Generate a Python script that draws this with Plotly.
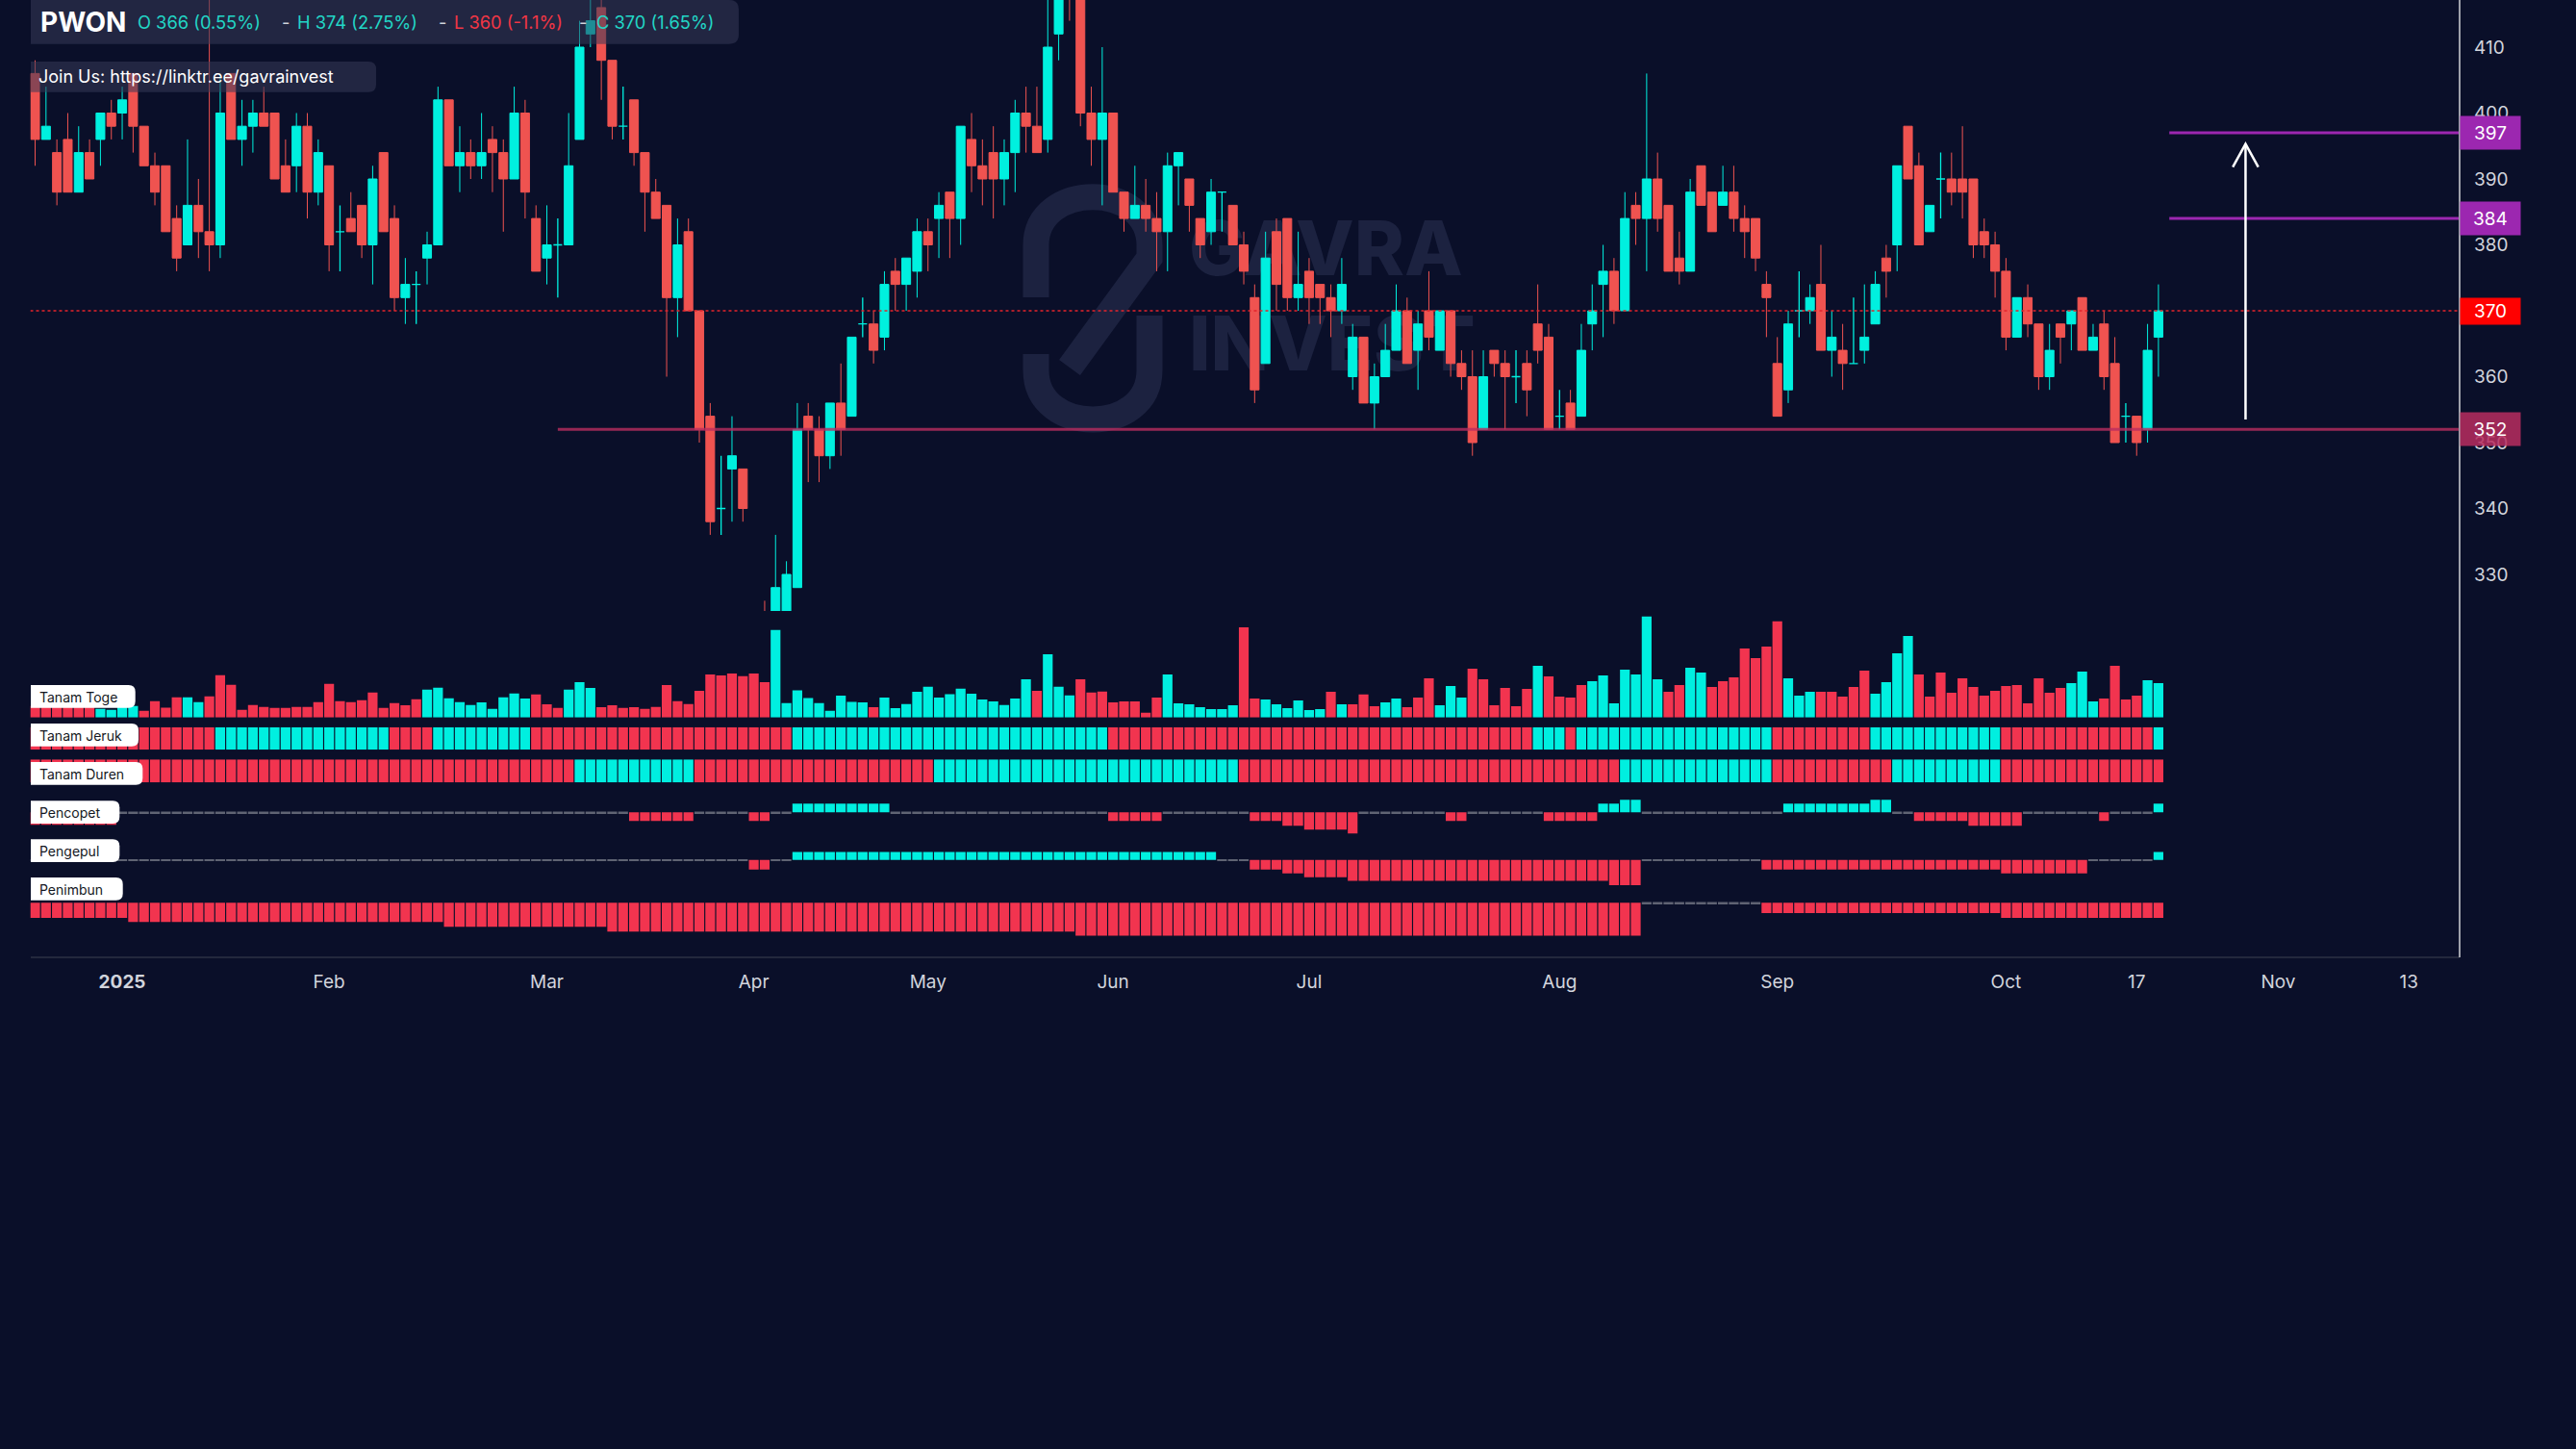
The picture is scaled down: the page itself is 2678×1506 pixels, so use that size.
import plotly.graph_objects as go

W, H = 2678, 1506
BG = "#0a0f29"
FONT = "Inter"

# ---------------- data ----------------
symbol = "PWON"
ohlc_labels = ["O 366 (0.55%)", "H 374 (2.75%)", "L 360 (-1.1%)", "C 370 (1.65%)"]
ohlc_label_dir = ["up", "up", "down", "up"]
link_text = "Join Us: https://linktr.ee/gavrainvest"
watermark = ["GAVRA", "INVEST"]

tick_idx = [8, 27, 47, 66, 82, 99, 117, 140, 160, 181, 193, 206, 218]
tick_text = ["<b>2025</b>", "Feb", "Mar", "Apr", "May", "Jun", "Jul", "Aug", "Sep", "Oct", "17", "Nov", "13"]
price_ticks = [330, 340, 350, 360, 370, 380, 390, 400, 410]

opens = [406, 396, 394, 396, 388, 394, 396, 400, 400, 406,
         398, 392, 392, 384, 380, 386, 382, 380, 406, 396,
         398, 400, 400, 392, 392, 398, 388, 392, 382, 384,
         386, 380, 394, 384, 372, 374, 378, 380, 402, 392,
         394, 392, 396, 394, 390, 400, 384, 378, 380, 380,
         396, 412, 416, 408, 398, 402, 394, 388, 386, 372,
         382, 370, 354, 340, 346, 346, 322, 320, 318, 322,
         328, 354, 352, 348, 356, 354, 368, 368, 366, 376,
         374, 376, 382, 384, 388, 384, 396, 392, 394, 390,
         394, 400, 398, 396, 412, 426, 420, 400, 396, 400,
         388, 384, 386, 384, 382, 392, 390, 384, 382, 388,
         386, 380, 372, 362, 382, 384, 372, 376, 374, 372,
         370, 360, 366, 356, 360, 364, 370, 364, 370, 364,
         370, 362, 360, 352, 364, 362, 360, 362, 368, 366,
         354, 356, 354, 368, 374, 376, 370, 386, 384, 390,
         386, 378, 376, 392, 388, 386, 388, 384, 384, 374,
         362, 358, 370, 370, 374, 364, 364, 362, 364, 368,
         378, 380, 398, 392, 382, 390, 390, 390, 390, 382,
         380, 376, 366, 372, 368, 360, 368, 368, 372, 364,
         368, 362, 354, 354, 352, 366]
highs = [408, 404, 396, 400, 398, 396, 400, 402, 404, 406,
         398, 394, 392, 386, 396, 390, 420, 406, 406, 402,
         402, 404, 400, 396, 400, 400, 396, 392, 386, 388,
         386, 392, 394, 386, 378, 376, 382, 404, 402, 398,
         396, 400, 398, 396, 404, 402, 386, 386, 384, 400,
         414, 418, 420, 408, 404, 402, 394, 390, 386, 384,
         384, 370, 356, 348, 354, 346, 324, 326, 336, 332,
         356, 356, 354, 356, 362, 366, 372, 370, 376, 378,
         378, 384, 384, 388, 388, 398, 400, 396, 398, 396,
         402, 404, 404, 418, 424, 428, 422, 404, 410, 400,
         388, 392, 390, 388, 394, 394, 390, 384, 390, 388,
         386, 382, 374, 382, 384, 384, 382, 378, 374, 374,
         378, 368, 366, 362, 368, 374, 372, 370, 376, 370,
         370, 364, 364, 364, 364, 364, 364, 364, 374, 368,
         358, 358, 368, 374, 380, 378, 388, 388, 406, 394,
         386, 382, 390, 392, 388, 392, 392, 386, 384, 376,
         366, 370, 376, 374, 380, 370, 368, 372, 374, 376,
         380, 392, 398, 394, 386, 394, 394, 398, 390, 384,
         382, 378, 372, 374, 368, 368, 368, 370, 372, 368,
         370, 366, 356, 354, 368, 374]
lows = [392, 396, 386, 388, 388, 390, 392, 396, 396, 394,
        392, 386, 382, 376, 380, 378, 376, 378, 396, 392,
        394, 398, 390, 388, 388, 384, 386, 376, 376, 382,
        378, 374, 382, 370, 368, 368, 374, 380, 392, 388,
        390, 390, 388, 382, 390, 384, 376, 374, 372, 380,
        396, 410, 402, 396, 396, 392, 382, 384, 360, 366,
        370, 350, 336, 336, 338, 338, 312, 310, 316, 320,
        328, 344, 344, 346, 348, 354, 366, 362, 364, 370,
        370, 372, 376, 378, 378, 380, 388, 386, 384, 386,
        388, 394, 394, 394, 408, 414, 398, 392, 386, 388,
        382, 384, 382, 376, 376, 386, 382, 378, 380, 382,
        380, 374, 356, 362, 370, 370, 370, 368, 368, 366,
        368, 358, 356, 352, 360, 364, 362, 358, 364, 364,
        360, 358, 348, 352, 360, 352, 356, 354, 362, 352,
        352, 352, 354, 364, 366, 368, 370, 380, 376, 382,
        376, 374, 376, 386, 382, 386, 382, 378, 376, 366,
        354, 356, 366, 368, 364, 360, 358, 362, 362, 368,
        372, 376, 390, 380, 382, 384, 386, 384, 378, 378,
        372, 364, 366, 366, 358, 358, 362, 364, 364, 364,
        358, 350, 350, 348, 350, 360]
closes = [396, 398, 388, 388, 394, 390, 400, 398, 402, 398,
          392, 388, 382, 378, 386, 382, 380, 400, 396, 398,
          400, 398, 390, 388, 398, 388, 394, 380, 382, 382,
          380, 390, 382, 372, 374, 374, 380, 402, 392, 394,
          392, 394, 394, 390, 400, 388, 376, 380, 380, 392,
          410, 414, 408, 398, 398, 394, 388, 384, 372, 380,
          370, 352, 338, 340, 348, 340, 316, 316, 328, 330,
          352, 352, 348, 356, 352, 366, 368, 364, 374, 374,
          378, 382, 380, 386, 384, 398, 392, 390, 390, 394,
          400, 398, 394, 410, 422, 420, 400, 396, 400, 388,
          384, 386, 384, 382, 392, 394, 386, 380, 388, 388,
          380, 376, 358, 378, 374, 372, 374, 372, 372, 370,
          374, 366, 356, 360, 364, 370, 362, 368, 366, 370,
          362, 360, 350, 360, 362, 360, 360, 358, 364, 352,
          354, 352, 364, 370, 376, 370, 384, 384, 390, 384,
          376, 376, 388, 386, 382, 388, 384, 382, 378, 372,
          354, 368, 370, 372, 364, 366, 362, 362, 366, 374,
          376, 392, 390, 380, 386, 390, 388, 388, 380, 380,
          376, 366, 372, 368, 360, 364, 366, 370, 364, 366,
          360, 350, 354, 350, 364, 370]

# "Tanam Toge" histogram (relative volume) and its colour runs
toge = [12, 12, 12, 12, 12, 12, 9, 8, 15.7, 12,
        7, 17, 10.3, 21, 21, 16,
        22, 44, 34, 8, 13, 11, 10, 10, 11, 11, 16, 35, 17, 16, 18, 26, 10, 15, 12.7, 19,
        29, 31, 20, 16, 13, 15.7, 9, 21, 25, 19.7,
        24, 13.7, 10, 29, 36.7, 30.7,
        10.7, 12.7, 10, 10.7, 9, 11, 33.7, 17, 14, 27.7, 44.7, 43.7, 45.7, 43, 45.7, 36.7,
        91, 15, 28.3, 20.3, 15, 7, 22.7, 16.3, 15.7, 10.7,
        20.7, 9.7, 14, 26.7, 32, 20.7, 24.3, 30, 24.7, 18.7, 16.7, 13, 19.7, 39.7,
        27.7, 65.7, 32, 23,
        39.7, 26, 27, 15.7, 16.7, 16.7, 5, 20.7,
        44.7, 14.7, 13.7, 10.7, 8.7, 8.7, 12.7,
        93.7, 19.7, 18.7, 13.7, 9.7, 17.7, 7.7, 8.7, 26.7, 13.7,
        13.7, 24, 11.7, 15.7, 19.7, 10.7, 20.7, 40.7, 12.7, 32.7, 20.7,
        50.7, 39.7, 12.7, 30.7, 11.7, 29.7, 53.7, 42.7, 21.7, 20.7, 33.7,
        37.7, 43.7, 14.7, 49.7, 44.7, 105, 39.7, 26.7, 33.7, 51.7, 46.7,
        31.7, 37.7, 41.7, 71.7, 61.7, 73.7, 100, 40.7, 22.7, 26.7,
        26.7, 26.7, 21.7, 31.7, 48.7, 24.7, 36.7, 66.7, 84.7,
        44.7, 21.7, 46.7, 25.7, 40.7, 31.7, 22.7, 27.7, 32.7, 33.7, 14.7, 40.7, 25.7, 30.7,
        35.7, 47.7, 16.7, 19.7, 53.7, 18.7, 22.7, 38.7, 35.7]
toge_runs = [("r", 6), ("c", 4), ("r", 4), ("c", 2), ("r", 20), ("c", 10), ("r", 3), ("c", 3),
             ("r", 16), ("c", 9), ("r", 1), ("c", 14), ("r", 1), ("c", 3), ("r", 8), ("c", 7),
             ("r", 2), ("c", 6), ("r", 1), ("c", 1), ("r", 3), ("c", 2), ("r", 3), ("c", 3),
             ("r", 6), ("c", 1), ("r", 4), ("c", 7), ("r", 2), ("c", 2), ("r", 7), ("c", 3),
             ("r", 5), ("c", 4), ("r", 14), ("c", 3), ("r", 4), ("c", 2)]
jeruk_runs = [("r", 17), ("c", 16), ("r", 4), ("c", 9), ("r", 24), ("c", 29), ("r", 39),
              ("c", 3), ("r", 1), ("c", 18), ("r", 9), ("c", 12), ("r", 14), ("c", 1)]
duren_runs = [("r", 50), ("c", 11), ("r", 22), ("c", 28), ("r", 35), ("c", 14), ("r", 11),
              ("c", 10), ("r", 15)]
pencopet_runs = [(-13, 8), (0, 47), (-9, 6), (0, 5), (-9, 2), (0, 2), (9, 9), (0, 20), (-9, 5),
                 (0, 8), (-9, 3), (-14, 2), (-18, 4), (-22, 1), (0, 8), (-9, 2), (0, 7), (-9, 5),
                 (9, 2), (13, 2), (0, 13), (9, 8), (13, 2), (0, 2), (-9, 5), (-14, 5), (0, 7),
                 (-9, 1), (0, 4), (9, 1)]
pengepul_runs = [(0, 66), (-10, 2), (0, 2), (8.3, 39), (0, 3), (-10, 3), (-14, 2), (-18, 4),
                 (-21.7, 24), (-26.3, 3), (0, 11), (-10, 22), (-14, 8), (0, 6), (8.3, 1)]
penimbun_runs = [(-15.7, 9), (-20, 29), (-25, 15), (-30, 43), (-34.3, 52), (0, 11),
                 (-10.7, 22), (-15.7, 15)]
pane_names = ["Tanam Toge", "Tanam Jeruk", "Tanam Duren", "Pencopet", "Pengepul", "Penimbun"]

last_price = 370
levels = [397, 384, 352]
level_from = [196, 196, 48]
target_idx, target_from, target_to = 203, 353.5, 395.3


def expand(runs):
    out = []
    for v, n in runs:
        out += [v] * n
    return out


N = len(opens)
assert all(len(a) == N for a in (highs, lows, closes, toge)), [len(a) for a in (highs, lows, closes, toge)]
idx = list(range(N))
toge_dir = expand(toge_runs)
jeruk = expand(jeruk_runs)
duren = expand(duren_runs)
pencopet = expand(pencopet_runs)
pengepul = expand(pengepul_runs)
penimbun = expand(penimbun_runs)
for a in (toge_dir, jeruk, duren, pencopet, pengepul, penimbun):
    assert len(a) == N, len(a)

# ---------------- styles / geometry ----------------
UP, DN = "#00f0df", "#ef5350"
BUP, BDN = "#00efe0", "#f2344f"
ZERO = "#5f6373"
TXT = "#d1d4dc"
X0, DX = 36.5, 11.32
PL, PR = 31.5, 2557
P_REF, P_REF_Y, PPU = 370, 323, 6.85
PRICE_BOTTOM = 635


def fx(px):
    return px / W


def fy(py):
    return 1 - py / H


def px2i(px):
    return (px - X0) / DX


def py2p(py):
    return P_REF - (py - P_REF_Y) / PPU


xr = [px2i(PL), px2i(PR)]
yr = [py2p(PRICE_BOTTOM), py2p(0)]


def cmap(flags):
    return [BUP if f == "c" else BDN for f in flags]


def vcol(vals):
    return [BUP if v > 0 else BDN for v in vals]


fig = go.Figure()

# watermark text (base subplot, below the candles which sit on an overlaying axis)
fig.add_trace(go.Scatter(x=[px2i(1236), px2i(1236)], y=[py2p(266), py2p(365)], text=watermark,
                         mode="text", textposition="middle right",
                         textfont=dict(family=FONT, size=79, color="#1c2240", weight=800),
                         hoverinfo="skip", showlegend=False, cliponaxis=False))

norm = [i for i in idx if opens[i] != closes[i]]
doji = [i for i in idx if opens[i] == closes[i]]
fig.add_trace(go.Candlestick(
    x=norm, open=[opens[i] for i in norm], high=[highs[i] for i in norm],
    low=[lows[i] for i in norm], close=[closes[i] for i in norm],
    increasing=dict(line=dict(color=UP, width=1), fillcolor=UP),
    decreasing=dict(line=dict(color=DN, width=1), fillcolor=DN),
    whiskerwidth=0, xaxis="x", yaxis="y9", hoverinfo="skip", showlegend=False))
fig.add_trace(go.Candlestick(
    x=doji, open=[opens[i] for i in doji], high=[highs[i] for i in doji],
    low=[lows[i] for i in doji], close=[closes[i] for i in doji],
    increasing=dict(line=dict(color=UP, width=1.3), fillcolor=UP),
    decreasing=dict(line=dict(color=UP, width=1.3), fillcolor=UP),
    whiskerwidth=0, xaxis="x", yaxis="y9", hoverinfo="skip", showlegend=False))

fig.add_trace(go.Bar(x=idx, y=toge, marker=dict(color=cmap(toge_dir), line_width=0),
                     xaxis="x", yaxis="y2", hoverinfo="skip", showlegend=False))
fig.add_trace(go.Bar(x=idx, y=[1] * N, marker=dict(color=cmap(jeruk), line_width=0),
                     xaxis="x", yaxis="y3", hoverinfo="skip", showlegend=False))
fig.add_trace(go.Bar(x=idx, y=[1] * N, marker=dict(color=cmap(duren), line_width=0),
                     xaxis="x", yaxis="y4", hoverinfo="skip", showlegend=False))
for vals, ax in ((pencopet, "y5"), (pengepul, "y6"), (penimbun, "y7")):
    fig.add_trace(go.Bar(x=idx, y=[v if v != 0 else None for v in vals],
                         marker=dict(color=vcol(vals), line_width=0),
                         xaxis="x", yaxis=ax, hoverinfo="skip", showlegend=False))
    fig.add_trace(go.Bar(x=idx, y=[1.6 if v == 0 else None for v in vals], base=-0.8,
                         marker=dict(color=ZERO, line_width=0),
                         xaxis="x", yaxis=ax, hoverinfo="skip", showlegend=False))


def paper_path(cmds):
    parts = []
    for c in cmds:
        op, pts = c[0], c[1:]
        s = op
        for (px, py) in pts:
            s += " %.6f,%.6f" % (fx(px), fy(py))
        parts.append(s)
    return " ".join(parts)


def rounded_right(x0, y0, x1, y1, r, fill):
    cmds = [("M", (x0, y0)), ("L", (x1 - r, y0)), ("Q", (x1, y0), (x1, y0 + r)),
            ("L", (x1, y1 - r)), ("Q", (x1, y1), (x1 - r, y1)), ("L", (x0, y1))]
    return dict(type="path", xref="paper", yref="paper", path=paper_path(cmds) + " Z",
                fillcolor=fill, line=dict(width=0), layer="above")


shapes = []
# logo watermark
shapes.append(dict(type="path", xref="paper", yref="paper", layer="below",
                   path=paper_path([("M", (1077, 309)), ("L", (1077, 255)),
                                    ("C", (1077, 188), (1195, 188), (1195, 255)),
                                    ("L", (1195, 268)), ("L", (1112, 382))]),
                   line=dict(color="#1c2240", width=27), fillcolor="rgba(0,0,0,0)"))
shapes.append(dict(type="path", xref="paper", yref="paper", layer="below",
                   path=paper_path([("M", (1077, 368)), ("L", (1077, 385)),
                                    ("C", (1077, 453), (1195, 453), (1195, 385)),
                                    ("L", (1195, 328))]),
                   line=dict(color="#1c2240", width=27), fillcolor="rgba(0,0,0,0)"))
# header & link boxes
shapes.append(rounded_right(32, 0, 768, 45.7, 10, "rgba(54,59,88,0.55)"))
shapes.append(rounded_right(32, 64, 391, 95.7, 8, "rgba(54,59,88,0.55)"))
# pane label boxes
label_boxes = [(140.7, 712), (144, 752), (148.3, 792), (124.3, 832.3), (124.3, 872.3), (127.7, 912)]
for (x1, y0) in label_boxes:
    shapes.append(rounded_right(32, y0, x1, y0 + 23.7, 7, "#ffffff"))
# current price dotted line
shapes.append(dict(type="line", xref="x", yref="y", x0=xr[0], x1=xr[1], y0=last_price, y1=last_price,
                   line=dict(color="#e3242b", width=1.3, dash="dot"), layer="above"))
# level lines
level_colors = ["#9c27b0", "#9c27b0", "rgba(185,45,95,0.8)"]
for lv, x0, c in zip(levels, level_from, level_colors):
    shapes.append(dict(type="line", xref="x", yref="y", x0=x0, x1=xr[1], y0=lv, y1=lv,
                       line=dict(color=c, width=3), layer="above"))
# target arrow
shapes.append(dict(type="line", xref="x", yref="y", x0=target_idx, x1=target_idx,
                   y0=target_from, y1=target_to, line=dict(color="white", width=2.5), layer="above"))
shapes.append(dict(type="path", xref="x", yref="y", layer="above",
                   path="M %f,%f L %f,%f L %f,%f" % (target_idx - 1.17, target_to - 3.5, target_idx, target_to,
                                                     target_idx + 1.17, target_to - 3.5),
                   line=dict(color="white", width=2.5), fillcolor="rgba(0,0,0,0)"))
# right price-scale border
shapes.append(dict(type="line", xref="paper", yref="paper", x0=fx(PR), x1=fx(PR), y0=fy(0), y1=fy(995),
                   line=dict(color="#9ea1aa", width=2), layer="above"))

ann = []
ann.append(dict(x=fx(40), y=fy(23), xref="paper", yref="paper", xanchor="left", yanchor="middle",
                text="<b>%s</b>" % symbol, showarrow=False, font=dict(family=FONT, size=28, color="white")))
item_x = [141, 307, 470, 618]
dash_x = [291, 454, 600]
for t, d, x in zip(ohlc_labels, ohlc_label_dir, item_x):
    ann.append(dict(x=fx(x), y=fy(23), xref="paper", yref="paper", xanchor="left", yanchor="middle",
                    text=t, showarrow=False,
                    font=dict(family=FONT, size=18.3, color="#22d6c6" if d == "up" else "#f23645")))
for x in dash_x:
    ann.append(dict(x=fx(x), y=fy(23), xref="paper", yref="paper", xanchor="left", yanchor="middle",
                    text="-", showarrow=False, font=dict(family=FONT, size=18.3, color=TXT)))
ann.append(dict(x=fx(38), y=fy(80), xref="paper", yref="paper", xanchor="left", yanchor="middle",
                text=link_text, showarrow=False, font=dict(family=FONT, size=18, color="white")))
for name, (x1, y0) in zip(pane_names, label_boxes):
    ann.append(dict(x=fx(39), y=fy(y0 + 12), xref="paper", yref="paper", xanchor="left", yanchor="middle",
                    text=name, showarrow=False, font=dict(family=FONT, size=14, color="#131722")))
for lv, c in zip(levels, ["#9c27b0", "#9c27b0", "rgba(185,45,95,0.85)"]):
    ann.append(dict(x=fx(PR), y=lv, xref="paper", yref="y", xanchor="left", yanchor="middle",
                    text=str(lv), showarrow=False, bgcolor=c, width=62, height=34, borderpad=0,
                    font=dict(family=FONT, size=19, color="white")))
ann.append(dict(x=fx(PR), y=last_price, xref="paper", yref="y", xanchor="left", yanchor="middle",
                text=str(last_price), showarrow=False, bgcolor="#ff0000", width=62, height=27, borderpad=0,
                font=dict(family=FONT, size=19, color="white")))


def hid(top_px, bot_px, rng):
    return dict(domain=[fy(bot_px), fy(top_px)], range=rng, anchor="x", visible=False, fixedrange=True)


fig.update_layout(
    width=W, height=H, margin=dict(l=0, r=0, t=0, b=0),
    paper_bgcolor=BG, plot_bgcolor="rgba(0,0,0,0)",
    showlegend=False, hovermode=False,
    barmode="overlay", bargap=0.1, boxgap=0.2, boxgroupgap=0,
    font=dict(family=FONT, color=TXT),
    xaxis=dict(domain=[fx(PL), fx(PR)], range=xr, anchor="free", position=fy(995),
               tickvals=tick_idx, ticktext=tick_text, tickfont=dict(family=FONT, size=19, color=TXT),
               ticks="", ticklabelstandoff=8, showgrid=False, zeroline=False,
               showline=True, linecolor="#23283d", linewidth=2, rangeslider=dict(visible=False),
               fixedrange=True),
    yaxis=dict(domain=[fy(PRICE_BOTTOM), 1], range=yr, anchor="x", side="right",
               tickvals=price_ticks, tickfont=dict(family=FONT, size=19, color=TXT),
               ticks="", ticklabelstandoff=14, showgrid=False, zeroline=False, showline=False,
               fixedrange=True),
    yaxis9=dict(range=yr, overlaying="y", anchor="x", side="right", visible=False, fixedrange=True),
    yaxis2=hid(637, 745.7, [0, 108.7]),
    yaxis3=hid(755.7, 779.3, [0, 1]),
    yaxis4=hid(789.3, 813.3, [0, 1]),
    yaxis5=hid(825, 870, [-25.7, 19.3]),
    yaxis6=hid(875, 925, [-31.3, 18.7]),
    yaxis7=hid(930, 980, [-41.7, 8.3]),
    shapes=shapes, annotations=ann,
)

fig.write_html(
    "out.html",
    config={"displayModeBar": False},
    post_script="document.body.style.margin='0';document.body.style.padding='0';"
                "document.body.style.background='%s';document.body.style.overflow='hidden';" % BG,
)
